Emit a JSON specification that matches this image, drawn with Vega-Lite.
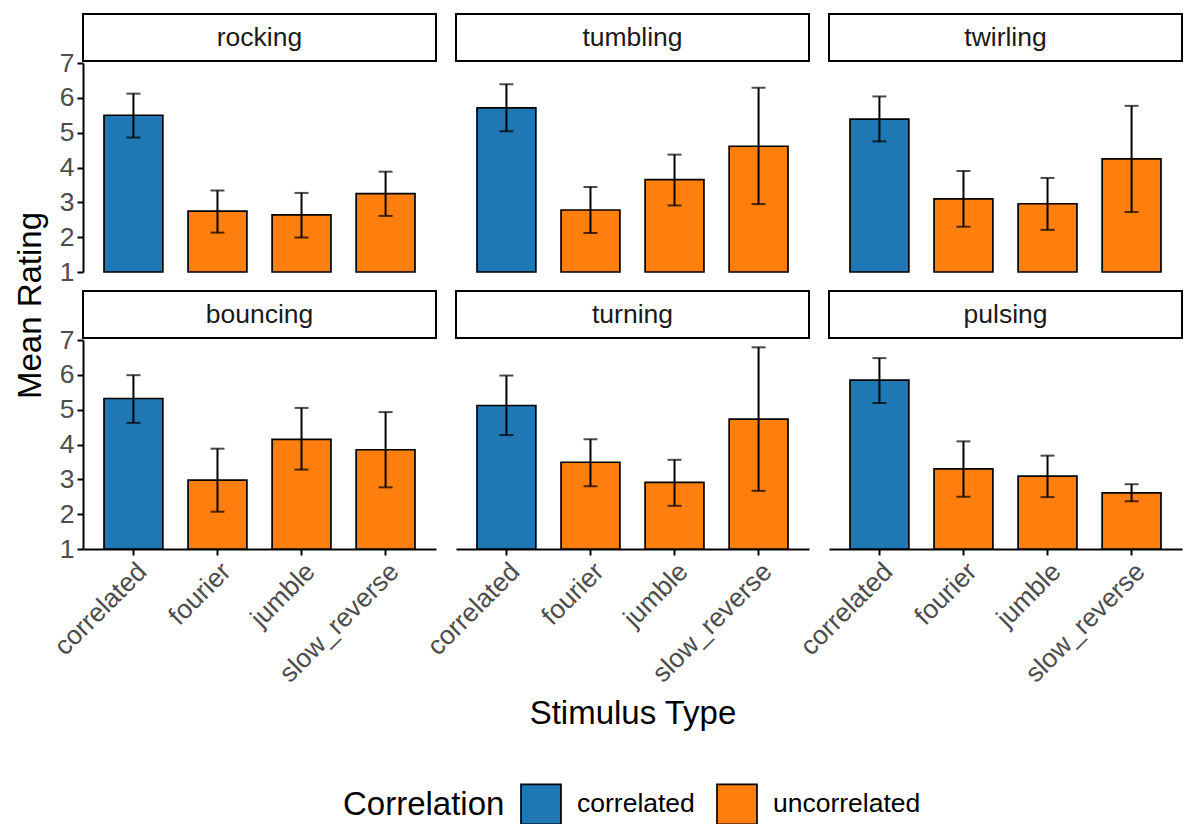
{
  "$schema": "https://vega.github.io/schema/vega-lite/v6.json",
  "padding": {"left": 14, "top": 13, "right": 4, "bottom": 2},
  "autosize": {"type": "pad"},
  "background": "white",
  "config": {
    "font": "Liberation Sans",
    "view": {"stroke": null},
    "axis": {"grid": false, "domainColor": "black", "domainWidth": 2, "tickColor": "black", "tickWidth": 2, "tickSize": 6, "labelColor": "#4D4D4D", "labelFontSize": 26.5, "labelFont": "Liberation Sans", "titleFont": "Liberation Sans", "titleFontSize": 33, "titleFontWeight": "normal", "titleColor": "black", "labelPadding": 3, "labelOverlap": false},
    "legend": {"titleFont": "Liberation Sans", "labelFont": "Liberation Sans"}
  },
  "datasets": {
    "ratings": [
      {"motion": "rocking", "stimulus": "correlated", "correlation": "correlated", "mean": 5.50, "lower": 4.86, "upper": 6.12},
      {"motion": "rocking", "stimulus": "fourier", "correlation": "uncorrelated", "mean": 2.745, "lower": 2.13, "upper": 3.34},
      {"motion": "rocking", "stimulus": "jumble", "correlation": "uncorrelated", "mean": 2.64, "lower": 1.99, "upper": 3.27},
      {"motion": "rocking", "stimulus": "slow_reverse", "correlation": "uncorrelated", "mean": 3.25, "lower": 2.61, "upper": 3.88},
      {"motion": "tumbling", "stimulus": "correlated", "correlation": "correlated", "mean": 5.71, "lower": 5.04, "upper": 6.39},
      {"motion": "tumbling", "stimulus": "fourier", "correlation": "uncorrelated", "mean": 2.78, "lower": 2.12, "upper": 3.44},
      {"motion": "tumbling", "stimulus": "jumble", "correlation": "uncorrelated", "mean": 3.65, "lower": 2.91, "upper": 4.37},
      {"motion": "tumbling", "stimulus": "slow_reverse", "correlation": "uncorrelated", "mean": 4.61, "lower": 2.95, "upper": 6.29},
      {"motion": "twirling", "stimulus": "correlated", "correlation": "correlated", "mean": 5.39, "lower": 4.75, "upper": 6.04},
      {"motion": "twirling", "stimulus": "fourier", "correlation": "uncorrelated", "mean": 3.10, "lower": 2.30, "upper": 3.90},
      {"motion": "twirling", "stimulus": "jumble", "correlation": "uncorrelated", "mean": 2.96, "lower": 2.21, "upper": 3.70},
      {"motion": "twirling", "stimulus": "slow_reverse", "correlation": "uncorrelated", "mean": 4.25, "lower": 2.72, "upper": 5.77},
      {"motion": "bouncing", "stimulus": "correlated", "correlation": "correlated", "mean": 5.32, "lower": 4.62, "upper": 5.99},
      {"motion": "bouncing", "stimulus": "fourier", "correlation": "uncorrelated", "mean": 2.98, "lower": 2.07, "upper": 3.88},
      {"motion": "bouncing", "stimulus": "jumble", "correlation": "uncorrelated", "mean": 4.15, "lower": 3.28, "upper": 5.05},
      {"motion": "bouncing", "stimulus": "slow_reverse", "correlation": "uncorrelated", "mean": 3.85, "lower": 2.77, "upper": 4.93},
      {"motion": "turning", "stimulus": "correlated", "correlation": "correlated", "mean": 5.12, "lower": 4.27, "upper": 5.98},
      {"motion": "turning", "stimulus": "fourier", "correlation": "uncorrelated", "mean": 3.49, "lower": 2.80, "upper": 4.15},
      {"motion": "turning", "stimulus": "jumble", "correlation": "uncorrelated", "mean": 2.91, "lower": 2.24, "upper": 3.56},
      {"motion": "turning", "stimulus": "slow_reverse", "correlation": "uncorrelated", "mean": 4.73, "lower": 2.67, "upper": 6.79},
      {"motion": "pulsing", "stimulus": "correlated", "correlation": "correlated", "mean": 5.85, "lower": 5.19, "upper": 6.48},
      {"motion": "pulsing", "stimulus": "fourier", "correlation": "uncorrelated", "mean": 3.30, "lower": 2.50, "upper": 4.09},
      {"motion": "pulsing", "stimulus": "jumble", "correlation": "uncorrelated", "mean": 3.09, "lower": 2.49, "upper": 3.68},
      {"motion": "pulsing", "stimulus": "slow_reverse", "correlation": "uncorrelated", "mean": 2.61, "lower": 2.37, "upper": 2.86}
    ]
  },
  "bounds": "flush",
  "columns": 3,
  "spacing": {"row": 2, "column": 20},
  "concat": [
    {"width": 353, "height": 47, "view": {"stroke": "black", "strokeWidth": 2, "fill": "white"}, "data": {"values": [{"motion": "rocking"}]}, "mark": {"type": "text", "fontSize": 26.5, "color": "#1A1A1A", "baseline": "middle", "align": "center"}, "encoding": {"text": {"field": "motion"}}},
    {"width": 353, "height": 47, "view": {"stroke": "black", "strokeWidth": 2, "fill": "white"}, "data": {"values": [{"motion": "tumbling"}]}, "mark": {"type": "text", "fontSize": 26.5, "color": "#1A1A1A", "baseline": "middle", "align": "center"}, "encoding": {"text": {"field": "motion"}}},
    {"width": 353, "height": 47, "view": {"stroke": "black", "strokeWidth": 2, "fill": "white"}, "data": {"values": [{"motion": "twirling"}]}, "mark": {"type": "text", "fontSize": 26.5, "color": "#1A1A1A", "baseline": "middle", "align": "center"}, "encoding": {"text": {"field": "motion"}}},
    {
      "width": 353, "height": 226,
      "data": {"name": "ratings"},
      "transform": [{"filter": "datum.motion === 'rocking'"}],
      "layer": [
        {"mark": {"type": "bar", "stroke": "black", "strokeWidth": 1.7},
         "encoding": {
           "x": {"field": "stimulus", "type": "nominal", "scale": {"paddingInner": 0.3, "paddingOuter": 0.25}, "axis": null},
           "y": {"field": "mean", "type": "quantitative", "scale": {"domain": [1, 7], "nice": false, "zero": false, "range": [209, 0]}, "axis": {"values": [1, 2, 3, 4, 5, 6, 7], "tickCount": 7, "title": null}},
           "y2": {"datum": 1},
           "color": {"field": "correlation", "type": "nominal", "scale": {"domain": ["correlated", "uncorrelated"], "range": ["#1F77B4", "#FF7F0E"]},
             "legend": {"title": "Correlation", "orient": "none", "legendX": 260, "legendY": 769, "direction": "horizontal", "titleOrient": "left", "titleFontSize": 33, "titleFontWeight": "normal", "titleColor": "black", "titleBaseline": "middle", "titlePadding": 15, "labelFontSize": 26.5, "labelColor": "black", "labelOffset": 15, "columnPadding": 18, "symbolType": "square", "symbolSize": 1600, "symbolStrokeColor": "black", "symbolStrokeWidth": 1.7, "symbolOpacity": 1}}
         }},
        {"mark": {"type": "rule", "color": "black", "strokeWidth": 2}, "encoding": {"x": {"field": "stimulus", "type": "nominal", "axis": null}, "y": {"field": "lower", "type": "quantitative"}, "y2": {"field": "upper"}}},
        {"mark": {"type": "tick", "color": "black", "size": 14, "thickness": 2}, "encoding": {"x": {"field": "stimulus", "type": "nominal", "axis": null}, "y": {"field": "lower", "type": "quantitative"}}},
        {"mark": {"type": "tick", "color": "black", "size": 14, "thickness": 2}, "encoding": {"x": {"field": "stimulus", "type": "nominal", "axis": null}, "y": {"field": "upper", "type": "quantitative"}}}
      ]
    },
    {
      "width": 353, "height": 226,
      "data": {"name": "ratings"},
      "transform": [{"filter": "datum.motion === 'tumbling'"}],
      "layer": [
        {"mark": {"type": "bar", "stroke": "black", "strokeWidth": 1.7},
         "encoding": {
           "x": {"field": "stimulus", "type": "nominal", "scale": {"paddingInner": 0.3, "paddingOuter": 0.25}, "axis": null},
           "y": {"field": "mean", "type": "quantitative", "scale": {"domain": [1, 7], "nice": false, "zero": false, "range": [209, 0]}, "axis": null},
           "y2": {"datum": 1},
           "color": {"field": "correlation", "type": "nominal", "scale": {"domain": ["correlated", "uncorrelated"], "range": ["#1F77B4", "#FF7F0E"]},
             "legend": {"title": "Correlation", "orient": "none", "legendX": 260, "legendY": 769, "direction": "horizontal", "titleOrient": "left", "titleFontSize": 33, "titleFontWeight": "normal", "titleColor": "black", "titleBaseline": "middle", "titlePadding": 15, "labelFontSize": 26.5, "labelColor": "black", "labelOffset": 15, "columnPadding": 18, "symbolType": "square", "symbolSize": 1600, "symbolStrokeColor": "black", "symbolStrokeWidth": 1.7, "symbolOpacity": 1}}
         }},
        {"mark": {"type": "rule", "color": "black", "strokeWidth": 2}, "encoding": {"x": {"field": "stimulus", "type": "nominal", "axis": null}, "y": {"field": "lower", "type": "quantitative", "axis": null}, "y2": {"field": "upper"}}},
        {"mark": {"type": "tick", "color": "black", "size": 14, "thickness": 2}, "encoding": {"x": {"field": "stimulus", "type": "nominal", "axis": null}, "y": {"field": "lower", "type": "quantitative", "axis": null}}},
        {"mark": {"type": "tick", "color": "black", "size": 14, "thickness": 2}, "encoding": {"x": {"field": "stimulus", "type": "nominal", "axis": null}, "y": {"field": "upper", "type": "quantitative", "axis": null}}}
      ]
    },
    {
      "width": 353, "height": 226,
      "data": {"name": "ratings"},
      "transform": [{"filter": "datum.motion === 'twirling'"}],
      "layer": [
        {"mark": {"type": "bar", "stroke": "black", "strokeWidth": 1.7},
         "encoding": {
           "x": {"field": "stimulus", "type": "nominal", "scale": {"paddingInner": 0.3, "paddingOuter": 0.25}, "axis": null},
           "y": {"field": "mean", "type": "quantitative", "scale": {"domain": [1, 7], "nice": false, "zero": false, "range": [209, 0]}, "axis": null},
           "y2": {"datum": 1},
           "color": {"field": "correlation", "type": "nominal", "scale": {"domain": ["correlated", "uncorrelated"], "range": ["#1F77B4", "#FF7F0E"]},
             "legend": {"title": "Correlation", "orient": "none", "legendX": 260, "legendY": 769, "direction": "horizontal", "titleOrient": "left", "titleFontSize": 33, "titleFontWeight": "normal", "titleColor": "black", "titleBaseline": "middle", "titlePadding": 15, "labelFontSize": 26.5, "labelColor": "black", "labelOffset": 15, "columnPadding": 18, "symbolType": "square", "symbolSize": 1600, "symbolStrokeColor": "black", "symbolStrokeWidth": 1.7, "symbolOpacity": 1}}
         }},
        {"mark": {"type": "rule", "color": "black", "strokeWidth": 2}, "encoding": {"x": {"field": "stimulus", "type": "nominal", "axis": null}, "y": {"field": "lower", "type": "quantitative", "axis": null}, "y2": {"field": "upper"}}},
        {"mark": {"type": "tick", "color": "black", "size": 14, "thickness": 2}, "encoding": {"x": {"field": "stimulus", "type": "nominal", "axis": null}, "y": {"field": "lower", "type": "quantitative", "axis": null}}},
        {"mark": {"type": "tick", "color": "black", "size": 14, "thickness": 2}, "encoding": {"x": {"field": "stimulus", "type": "nominal", "axis": null}, "y": {"field": "upper", "type": "quantitative", "axis": null}}}
      ]
    },
    {"width": 353, "height": 47, "view": {"stroke": "black", "strokeWidth": 2, "fill": "white"}, "data": {"values": [{"motion": "bouncing"}]}, "mark": {"type": "text", "fontSize": 26.5, "color": "#1A1A1A", "baseline": "middle", "align": "center"}, "encoding": {"text": {"field": "motion"}}},
    {"width": 353, "height": 47, "view": {"stroke": "black", "strokeWidth": 2, "fill": "white"}, "data": {"values": [{"motion": "turning"}]}, "mark": {"type": "text", "fontSize": 26.5, "color": "#1A1A1A", "baseline": "middle", "align": "center"}, "encoding": {"text": {"field": "motion"}}},
    {"width": 353, "height": 47, "view": {"stroke": "black", "strokeWidth": 2, "fill": "white"}, "data": {"values": [{"motion": "pulsing"}]}, "mark": {"type": "text", "fontSize": 26.5, "color": "#1A1A1A", "baseline": "middle", "align": "center"}, "encoding": {"text": {"field": "motion"}}},
    {
      "width": 353, "height": 209,
      "data": {"name": "ratings"},
      "transform": [{"filter": "datum.motion === 'bouncing'"}],
      "layer": [
        {"mark": {"type": "bar", "stroke": "black", "strokeWidth": 1.7},
         "encoding": {
           "x": {"field": "stimulus", "type": "nominal", "scale": {"paddingInner": 0.3, "paddingOuter": 0.25}, "axis": {"title": null, "labelAngle": -45, "labelAlign": "right", "labelBaseline": "top"}},
           "y": {"field": "mean", "type": "quantitative", "scale": {"domain": [1, 7], "nice": false, "zero": false}, "axis": {"values": [1, 2, 3, 4, 5, 6, 7], "tickCount": 7, "title": "Mean Rating", "titleY": -35, "titlePadding": 12}},
           "y2": {"datum": 1},
           "color": {"field": "correlation", "type": "nominal", "scale": {"domain": ["correlated", "uncorrelated"], "range": ["#1F77B4", "#FF7F0E"]},
             "legend": {"title": "Correlation", "orient": "none", "legendX": 260, "legendY": 769, "direction": "horizontal", "titleOrient": "left", "titleFontSize": 33, "titleFontWeight": "normal", "titleColor": "black", "titleBaseline": "middle", "titlePadding": 15, "labelFontSize": 26.5, "labelColor": "black", "labelOffset": 15, "columnPadding": 18, "symbolType": "square", "symbolSize": 1600, "symbolStrokeColor": "black", "symbolStrokeWidth": 1.7, "symbolOpacity": 1}}
         }},
        {"mark": {"type": "rule", "color": "black", "strokeWidth": 2}, "encoding": {"x": {"field": "stimulus", "type": "nominal"}, "y": {"field": "lower", "type": "quantitative"}, "y2": {"field": "upper"}}},
        {"mark": {"type": "tick", "color": "black", "size": 14, "thickness": 2}, "encoding": {"x": {"field": "stimulus", "type": "nominal"}, "y": {"field": "lower", "type": "quantitative"}}},
        {"mark": {"type": "tick", "color": "black", "size": 14, "thickness": 2}, "encoding": {"x": {"field": "stimulus", "type": "nominal"}, "y": {"field": "upper", "type": "quantitative"}}}
      ]
    },
    {
      "width": 353, "height": 209,
      "data": {"name": "ratings"},
      "transform": [{"filter": "datum.motion === 'turning'"}],
      "layer": [
        {"mark": {"type": "bar", "stroke": "black", "strokeWidth": 1.7},
         "encoding": {
           "x": {"field": "stimulus", "type": "nominal", "scale": {"paddingInner": 0.3, "paddingOuter": 0.25}, "axis": {"title": "Stimulus Type", "labelAngle": -45, "labelAlign": "right", "labelBaseline": "top", "titlePadding": 10}},
           "y": {"field": "mean", "type": "quantitative", "scale": {"domain": [1, 7], "nice": false, "zero": false}, "axis": null},
           "y2": {"datum": 1},
           "color": {"field": "correlation", "type": "nominal", "scale": {"domain": ["correlated", "uncorrelated"], "range": ["#1F77B4", "#FF7F0E"]},
             "legend": {"title": "Correlation", "orient": "none", "legendX": 260, "legendY": 769, "direction": "horizontal", "titleOrient": "left", "titleFontSize": 33, "titleFontWeight": "normal", "titleColor": "black", "titleBaseline": "middle", "titlePadding": 15, "labelFontSize": 26.5, "labelColor": "black", "labelOffset": 15, "columnPadding": 18, "symbolType": "square", "symbolSize": 1600, "symbolStrokeColor": "black", "symbolStrokeWidth": 1.7, "symbolOpacity": 1}}
         }},
        {"mark": {"type": "rule", "color": "black", "strokeWidth": 2}, "encoding": {"x": {"field": "stimulus", "type": "nominal"}, "y": {"field": "lower", "type": "quantitative", "axis": null}, "y2": {"field": "upper"}}},
        {"mark": {"type": "tick", "color": "black", "size": 14, "thickness": 2}, "encoding": {"x": {"field": "stimulus", "type": "nominal"}, "y": {"field": "lower", "type": "quantitative", "axis": null}}},
        {"mark": {"type": "tick", "color": "black", "size": 14, "thickness": 2}, "encoding": {"x": {"field": "stimulus", "type": "nominal"}, "y": {"field": "upper", "type": "quantitative", "axis": null}}}
      ]
    },
    {
      "width": 353, "height": 209,
      "data": {"name": "ratings"},
      "transform": [{"filter": "datum.motion === 'pulsing'"}],
      "layer": [
        {"mark": {"type": "bar", "stroke": "black", "strokeWidth": 1.7},
         "encoding": {
           "x": {"field": "stimulus", "type": "nominal", "scale": {"paddingInner": 0.3, "paddingOuter": 0.25}, "axis": {"title": null, "labelAngle": -45, "labelAlign": "right", "labelBaseline": "top"}},
           "y": {"field": "mean", "type": "quantitative", "scale": {"domain": [1, 7], "nice": false, "zero": false}, "axis": null},
           "y2": {"datum": 1},
           "color": {"field": "correlation", "type": "nominal", "scale": {"domain": ["correlated", "uncorrelated"], "range": ["#1F77B4", "#FF7F0E"]},
             "legend": {"title": "Correlation", "orient": "none", "legendX": 260, "legendY": 769, "direction": "horizontal", "titleOrient": "left", "titleFontSize": 33, "titleFontWeight": "normal", "titleColor": "black", "titleBaseline": "middle", "titlePadding": 15, "labelFontSize": 26.5, "labelColor": "black", "labelOffset": 15, "columnPadding": 18, "symbolType": "square", "symbolSize": 1600, "symbolStrokeColor": "black", "symbolStrokeWidth": 1.7, "symbolOpacity": 1}}
         }},
        {"mark": {"type": "rule", "color": "black", "strokeWidth": 2}, "encoding": {"x": {"field": "stimulus", "type": "nominal"}, "y": {"field": "lower", "type": "quantitative", "axis": null}, "y2": {"field": "upper"}}},
        {"mark": {"type": "tick", "color": "black", "size": 14, "thickness": 2}, "encoding": {"x": {"field": "stimulus", "type": "nominal"}, "y": {"field": "lower", "type": "quantitative", "axis": null}}},
        {"mark": {"type": "tick", "color": "black", "size": 14, "thickness": 2}, "encoding": {"x": {"field": "stimulus", "type": "nominal"}, "y": {"field": "upper", "type": "quantitative", "axis": null}}}
      ]
    }
  ]
}
